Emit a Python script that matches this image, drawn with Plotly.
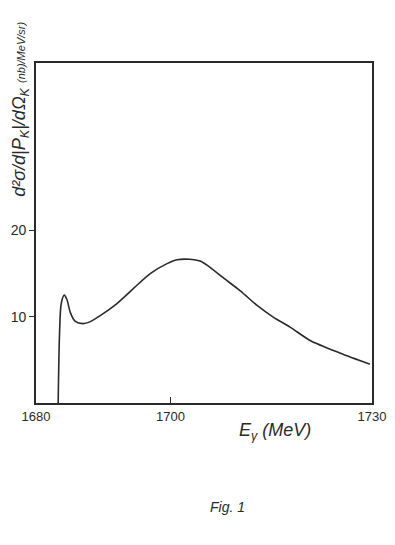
import plotly.graph_objects as go

# Data
energy_mev = [1683.3, 1683.5, 1683.75, 1684.2, 1684.6, 1685.1, 1685.8, 1687.0,
              1688.0, 1689.5, 1692.0, 1694.4, 1697.0, 1699.5, 1701.0, 1702.9,
              1704.4, 1705.5, 1707.8, 1710.4, 1712.9, 1715.3, 1717.8, 1720.8,
              1725.2, 1729.7]
cross_section = [0.0, 8.0, 11.5, 12.5, 12.0, 10.5, 9.5, 9.2,
                 9.4, 10.1, 11.5, 13.2, 15.0, 16.15, 16.6, 16.65,
                 16.45, 15.95, 14.55, 13.0, 11.3, 9.95, 8.8, 7.25,
                 5.8, 4.5]
x_tick_vals = [1680, 1700, 1730]
x_tick_text = ["1680", "1700", "1730"]
y_tick_vals = [10, 20]
y_tick_text = ["10", "20"]

ink = "#2a2a2a"
font_family = "Liberation Sans, Arial, sans-serif"

fig = go.Figure()
fig.add_trace(go.Scatter(
    x=energy_mev, y=cross_section, mode="lines",
    line=dict(color=ink, width=1.6, shape="spline", smoothing=0.8),
    showlegend=False, hoverinfo="skip",
))

fig.update_xaxes(
    range=[1680, 1730], tickvals=x_tick_vals, ticktext=x_tick_text,
    ticks="inside", ticklen=6, tickwidth=1.2, tickcolor=ink,
    showline=True, linecolor=ink, linewidth=1.8, mirror=True,
    showgrid=False, zeroline=False, automargin=False,
    tickfont=dict(family=font_family, size=13, color=ink),
)
fig.update_yaxes(
    range=[0, 39.4], tickvals=y_tick_vals, ticktext=y_tick_text,
    ticks="outside", ticklen=5, tickwidth=1.2, tickcolor=ink,
    showline=True, linecolor=ink, linewidth=1.8, mirror=True,
    showgrid=False, zeroline=False, automargin=False,
    tickfont=dict(family=font_family, size=14, color=ink),
)

# page body has an 8px default margin, so the figure is sized/offset to compensate
fig.update_layout(
    width=387, height=537,
    margin=dict(l=28, r=23, t=55, b=142),
    paper_bgcolor="white", plot_bgcolor="white",
    annotations=[
        dict(text="<i>d²σ/d|P<sub>K</sub>|/dΩ<sub>K</sub></i> <i><span style='font-size:11px'>(nb)/MeV/sr)</span></i>",
             xref="paper", yref="paper", x=-0.045, y=0.865, textangle=-90,
             showarrow=False, xanchor="center", yanchor="middle",
             font=dict(family=font_family, size=18, color=ink)),
        dict(text="<i>E<sub>γ</sub> (MeV)</i>",
             xref="paper", yref="paper", x=0.71, y=-0.085,
             showarrow=False, xanchor="center", yanchor="middle",
             font=dict(family=font_family, size=18, color=ink)),
        dict(text="<i>Fig. 1</i>",
             xref="paper", yref="paper", x=0.571, y=-0.306,
             showarrow=False, xanchor="center", yanchor="middle",
             font=dict(family=font_family, size=14, color=ink)),
    ],
)

fig.write_html("out.html")
